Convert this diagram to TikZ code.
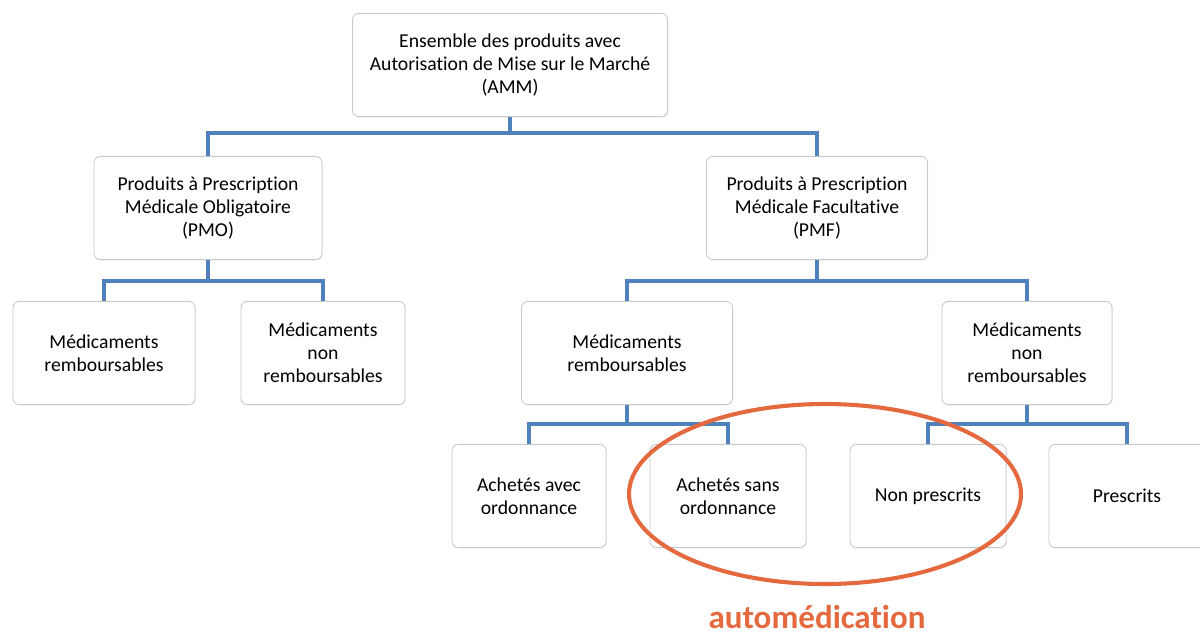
\documentclass[tikz,border=0pt]{standalone}
\usepackage{fontspec}
\setmainfont{Carlito}[Ligatures={NoCommon}]
\usepackage{xcolor}
\usepackage{tikz}
\usetikzlibrary{shadows}
\definecolor{cLink}{RGB}{ 79,129,189}
\definecolor{cBord}{RGB}{200,200,200}
\definecolor{cOrg}{RGB}{228,105, 62}
\tikzset{
  box/.style  ={draw=cBord,fill=white,rounded corners=4.5pt,inner sep=2pt,line width=0.6pt,
                align=center,font=\fontsize{14}{16.3}\selectfont,minimum height=2.58cm,
                drop shadow={opacity=0.12,shadow xshift=0.6pt,shadow yshift=-0.6pt}},
  link/.style ={draw=cLink,line width=2.6pt},
  ring/.style ={draw=cOrg,line width=2.9pt},
}
\begin{document}
\begin{tikzpicture}[x=0.025cm,y=-0.025cm]
\useasboundingbox (0,0) rectangle (1200,632);

%% ---- boxes, centres measured on the reference (px, y downward)
\node[box,minimum width=7.875cm] (amm) at (510,65)  {Ensemble des produits avec\\Autorisation de Mise sur le Marché\\(AMM)};
\node[box,minimum width=5.7cm]   (pmo) at (208,208) {Produits à Prescription\\Médicale Obligatoire\\(PMO)};
\node[box,minimum width=5.525cm] (pmf) at (817,208) {Produits à Prescription\\Médicale Facultative\\(PMF)};

\node[box,minimum width=4.55cm]  (mro) at (104,353)  {Médicaments\\remboursables};
\node[box,minimum width=4.1cm]   (mno) at (323,353)  {Médicaments\\non\\remboursables};
\node[box,minimum width=5.275cm] (mrf) at (627,353)  {Médicaments\\remboursables};
\node[box,minimum width=4.25cm]  (mnf) at (1027,353) {Médicaments\\non\\remboursables};

\node[box,minimum width=3.85cm]  (aco) at (529,496)  {Achetés avec\\ordonnance};
\node[box,minimum width=3.9cm]   (aso) at (728,496)  {Achetés sans\\ordonnance};
\node[box,minimum width=3.9cm]   (npr) at (928,496)  {Non prescrits};
\node[box,minimum width=3.9cm]   (pre) at (1127,496) {Prescrits};

%% ---- tree links: down, across, down
\draw[link] (amm.south) -- ++(0,16) -| (pmo.north);
\draw[link] (amm.south) -- ++(0,16) -| (pmf.north);
\draw[link] (pmo.south) -- ++(0,21) -| (mro.north);
\draw[link] (pmo.south) -- ++(0,21) -| (mno.north);
\draw[link] (pmf.south) -- ++(0,21) -| (mrf.north);
\draw[link] (pmf.south) -- ++(0,21) -| (mnf.north);
\draw[link] (mrf.south) -- ++(0,19) -| (aco.north);
\draw[link] (mrf.south) -- ++(0,19) -| (aso.north);
\draw[link] (mnf.south) -- ++(0,19) -| (npr.north);
\draw[link] (mnf.south) -- ++(0,19) -| (pre.north);

%% ---- self-medication ring
\coordinate (rc) at (825,494);
\draw[ring] (rc) ellipse [x radius=196, y radius=90];
\node[font=\fontsize{23.5}{27}\selectfont\bfseries,text=cOrg,anchor=base,inner sep=0pt] (auto) at (817,628) {automédication};

\end{tikzpicture}
\end{document}
